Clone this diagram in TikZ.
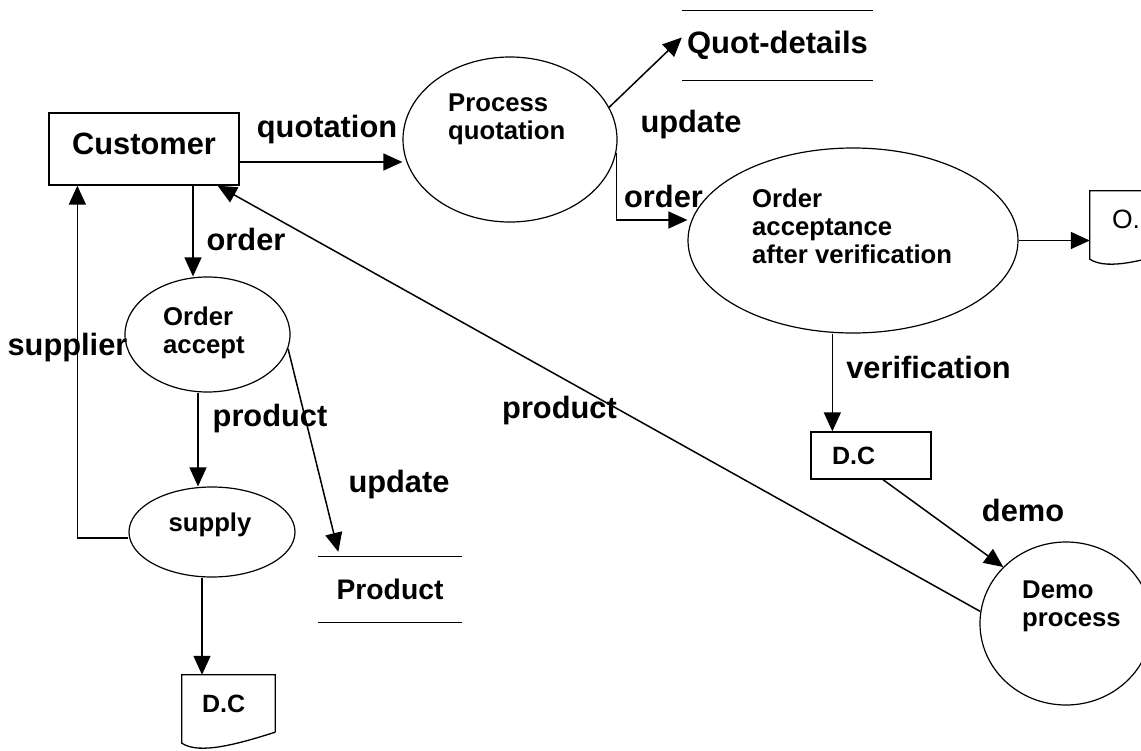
\documentclass[tikz,border=0pt]{standalone}
\usepackage{fontspec}
\setmainfont{Liberation Sans}
\usetikzlibrary{shapes.geometric,arrows.meta}

% document symbol: flat top, wavy bottom
\newcommand\docoutline[1]{%
  \draw[line width=1.3pt] (#1.south east) -- (#1.north east) -- (#1.north west)
    -- ([yshift=-11pt]#1.south west)
    .. controls ([xshift=18pt,yshift=-23pt]#1.south west) and ([xshift=-35pt,yshift=-11pt]#1.south east)
    .. (#1.south east);}
% data store: two horizontal lines
\newcommand\storelines[1]{%
  \draw[line width=1.3pt] (#1.north west) -- (#1.north east) (#1.south west) -- (#1.south east);}

\begin{document}
\begin{tikzpicture}[x=1pt,y=-1pt,
    proc/.style={ellipse,draw,line width=1.2pt,inner sep=0pt},
    box/.style={rectangle,draw,line width=1.3pt},
    store/.style={rectangle,inner sep=0pt},
    docbox/.style={rectangle,minimum width=93pt,minimum height=57pt,inner xsep=20pt,
      text width=53pt,align=left,font=\fontsize{25}{28}\selectfont\bfseries},
    lbl/.style={inner sep=0pt,font=\fontsize{30.8}{34}\selectfont\bfseries},
    ptext/.style={inner sep=0pt,align=left,font=\fontsize{25.7}{28}\selectfont\bfseries},
    flow/.style={line width=1.5pt,-{Triangle[length=19pt,width=17pt]}}]
  \useasboundingbox (0,0) rectangle (1141,750);

  % entities, processes, stores
  \node[box,minimum width=190pt,minimum height=72pt,text depth=10pt,
    font=\fontsize{30.8}{34}\selectfont\bfseries] (cust) at (144,149) {Customer};
  \node[proc,minimum width=214pt,minimum height=165pt] (pq) at (510,139.5) {};
  \node[proc,minimum width=330pt,minimum height=185pt] (oa) at (853,240.5) {};
  \node[proc,minimum width=165pt,minimum height=115pt] (oacc) at (207.5,334.5) {};
  \node[proc,minimum width=166pt,minimum height=90pt] (sup) at (212,532) {};
  \node[proc,minimum width=172pt,minimum height=163pt] (demo) at (1066,623.5) {};
  \node[ptext,anchor=west] (pqtext) at (448,119.5) {Process\\quotation};
  \node[ptext,anchor=west] (oatext) at (752,226.5) {Order\\acceptance\\after verification};
  \node[ptext,anchor=west] (oacctext) at (163,332.5) {Order\\accept};
  \node[ptext] (suptext) at (210,525) {supply};
  \node[ptext,anchor=west] (demotext) at (1022,606) {Demo\\process};

  \node[store,minimum width=191pt,minimum height=69pt,
    font=\fontsize{31}{34}\selectfont\bfseries] (qd) at (777.5,45.5) {Quot-details};
  \node[store,minimum width=143pt,minimum height=65pt,
    font=\fontsize{28.3}{31}\selectfont\bfseries] (prod) at (390,589.5) {Product};
  \storelines{qd}
  \storelines{prod}

  \node[box,minimum width=120pt,minimum height=47pt,inner xsep=21pt,text width=78pt,
    align=left,font=\fontsize{25}{28}\selectfont\bfseries] (dcv) at (871,455.5) {D.C};
  \node[docbox] (dcsup) at (228.5,703.5) {D.C};
  \node[docbox,inner xsep=22pt,text width=49pt,
    font=\fontsize{26.5}{29}\selectfont] (odoc) at (1136.5,219.5) {O.};
  \docoutline{dcsup}
  \docoutline{odoc}

  % flows
  \coordinate (qin) at ([yshift=-13pt]cust.east);
  \coordinate (oin) at ([yshift=20.5pt]oa.west);
  \coordinate (vtop) at ([xshift=22pt]dcv.north west);
  \coordinate (otop) at ([xshift=49pt]cust.south);
  \coordinate (pdown) at ([xshift=-9.5pt]oacc.south);
  \coordinate (sdown) at ([xshift=-10pt]sup.south);
  \begin{scope}[flow]
    \draw (qin) -- (qin -| pq.west);
    \draw (pq.18) -- ([yshift=8pt]qd.west);
    \draw (pq.-7) |- (oin);
    \draw (oa.east) -- (oa.east -| odoc.west);
    \draw (vtop |- oa.south) -- (vtop);
    \draw ([xshift=12pt]dcv.south) -- (demo.138);
    \draw (demo.172) -- ([xshift=-22pt]cust.south east);
    \draw (otop) -- (otop |- oacc.north);
    \draw (pdown) -- (pdown |- sup.north);
    \draw (oacc.-10) -- ([xshift=20pt,yshift=5pt]prod.north west);
    \draw ([yshift=-6pt]sup.west) -| ([xshift=29pt]cust.south west);
    \draw (sdown) -- (sdown |- dcsup.north);
  \end{scope}

  % flow labels
  \node[lbl] (lquot) at (327,130) {quotation};
  \node[lbl] (lorder) at (246,239) {order};
  \node[lbl] (lupdq) at (691,124.5) {update};
  \node[lbl] (lorderb) at (663.5,196) {order};
  \node[lbl] (lverif) at (928.5,367) {verification};
  \node[lbl] (ldemo) at (1023,510) {demo};
  \node[lbl] (lprod) at (559.5,410.5) {product};
  \node[lbl] (lsupp) at (67.5,348) {supplier};
  \node[lbl] (lprodb) at (270,418.5) {product};
  \node[lbl] (lupdp) at (399,485) {update};
\end{tikzpicture}
\end{document}
